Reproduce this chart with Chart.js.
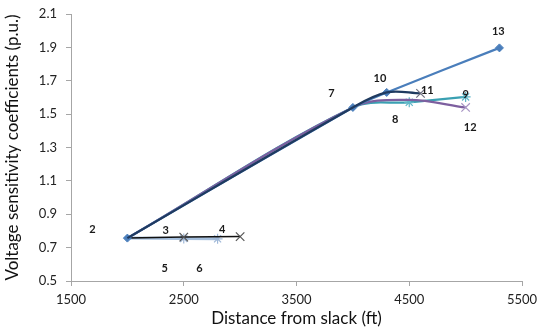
<!DOCTYPE html>
<html>
<head>
<meta charset="utf-8">
<script src="https://cdn.jsdelivr.net/npm/chart.js@4.4.1/dist/chart.umd.min.js"></script>
<style>
  html,body{margin:0;padding:0;background:#fff;}
  #wrap{width:539px;height:332px;}
</style>
</head>
<body>
<div id="wrap"><canvas id="chart" width="539" height="332"></canvas></div>
<script>
// DATA
const mainX = [2000, 4000, 4300, 5300];
const mainY = [0.757, 1.54, 1.63, 1.897];

const navyX = [2000, 4000, 4300, 4600];
const navyY = [0.757, 1.54, 1.63, 1.624];

const purpleX = [2000, 4000, 4500, 5000];
const purpleY = [0.757, 1.54, 1.585, 1.54];

const tealX = [2000, 4000, 4500, 5000];
const tealY = [0.757, 1.54, 1.571, 1.603];

const lightX = [2000, 2500, 2800];
const lightY = [0.757, 0.755, 0.753];

const blackX = [2000, 2500, 3000];
const blackY = [0.757, 0.763, 0.766];

const xTicks = [1500, 2500, 3500, 4500, 5500];
const yTicks = [0.5, 0.7, 0.9, 1.1, 1.3, 1.5, 1.7, 1.9, 2.1];

// node numbers written on the chart
const nodeNames = ['2', '3', '4', '5', '6', '7', '8', '9', '10', '11', '12', '13'];
const nodeX = [1690, 2340, 2840, 2330, 2640, 3810, 4375, 5000, 4240, 4660, 5040, 5290];
const nodeY = [0.807, 0.80, 0.81, 0.578, 0.573, 1.625, 1.468, 1.62, 1.715, 1.643, 1.42, 1.998];

function pts(xs, ys){ return xs.map((x,i)=>({x:x,y:ys[i]})); }

const FONT = 'Lato, "Open Sans", sans-serif';
const axisGray = '#a6a6a6';

// draw node numbers through the scales
const nodeLabels = {
  id:'nodeLabels',
  afterDatasetsDraw(chart){
    const {ctx, scales:{x,y}} = chart;
    ctx.save();
    ctx.font = 'bold 11px ' + FONT;
    ctx.fillStyle = '#1a1a1a';
    ctx.textAlign = 'center';
    ctx.textBaseline = 'middle';
    nodeNames.forEach((n,i)=>{
      ctx.fillText(n, x.getPixelForValue(nodeX[i]), y.getPixelForValue(nodeY[i]));
    });
    ctx.restore();
  }
};

const ctx = document.getElementById('chart').getContext('2d');
new Chart(ctx,{
  type:'line',
  data:{datasets:[
    {label:'navy', data:pts(navyX,navyY), borderColor:'#1f3a5f', borderWidth:2.25, tension:0.35, order:0,
      pointStyle:'crossRot', pointRadius:[0,0,0,6], pointBorderColor:'#6f6f7f', pointBorderWidth:1.2, pointBackgroundColor:'transparent'},
    {label:'main', data:pts(mainX,mainY), borderColor:'#4a7ebb', borderWidth:2.25, tension:0.2, order:1,
      pointStyle:'rectRot', pointRadius:4, pointBackgroundColor:'#4a7ebb', pointBorderColor:'#4a7ebb', pointBorderWidth:1},
    {label:'teal', data:pts(tealX,tealY), borderColor:'#3aa0b2', borderWidth:2.25, tension:0.35, order:3,
      pointStyle:'star', pointRadius:[0,0,5,5], pointBorderColor:'#5fb7c8', pointBorderWidth:1.2, pointBackgroundColor:'transparent'},
    {label:'purple', data:pts(purpleX,purpleY), borderColor:'#7d5f9f', borderWidth:2.25, tension:0.35, order:2,
      pointStyle:'crossRot', pointRadius:[0,0,0,6], pointBorderColor:'#a895c4', pointBorderWidth:1.2, pointBackgroundColor:'transparent'},
    {label:'black', data:pts(blackX,blackY), borderColor:'#111111', borderWidth:1.5, tension:0, order:4,
      pointStyle:'crossRot', pointRadius:[0,6,6], pointBorderColor:'#555555', pointBorderWidth:1.2, pointBackgroundColor:'transparent'},
    {label:'light', data:pts(lightX,lightY), borderColor:'#a5bfdd', borderWidth:3, tension:0, order:5,
      pointStyle:'star', pointRadius:[0,5,5], pointBorderColor:'#9fb8d8', pointBorderWidth:1.2, pointBackgroundColor:'transparent'}
  ]},
  options:{
    responsive:false,
    animation:false,
    layout:{padding:{top:14,right:17,left:0,bottom:0}},
    plugins:{legend:{display:false},tooltip:{enabled:false}},
    scales:{
      x:{
        type:'linear', min:1500, max:5500,
        afterBuildTicks:s=>{ s.ticks = xTicks.map(v=>({value:v})); },
        afterFit:s=>{ s.height = 51; s.paddingLeft = 0; s.paddingRight = 0; },
        ticks:{color:'#222', font:{family:FONT,size:13}, padding:6, maxRotation:0, callback:v=>String(v)},
        grid:{drawOnChartArea:false, drawTicks:true, tickLength:5, color:axisGray},
        border:{color:axisGray},
        title:{display:true, text:'Distance from slack (ft)', color:'#111', font:{family:FONT,size:17}, padding:{top:0,bottom:3}}
      },
      y:{
        type:'linear', min:0.5, max:2.1,
        afterBuildTicks:s=>{ s.ticks = yTicks.map(v=>({value:v})); },
        afterFit:s=>{ s.width = 71; s.paddingTop = 0; s.paddingBottom = 0; },
        ticks:{color:'#222', font:{family:FONT,size:13}, padding:9, callback:v=>v.toFixed(1)},
        grid:{drawOnChartArea:false, drawTicks:true, tickLength:5, color:axisGray},
        border:{color:axisGray},
        title:{display:true, text:'Voltage sensitivity coefficients (p.u.)', color:'#111', font:{family:FONT,size:17}, padding:{top:2,bottom:0}}
      }
    }
  },
  plugins:[nodeLabels]
});
</script>
</body>
</html>
